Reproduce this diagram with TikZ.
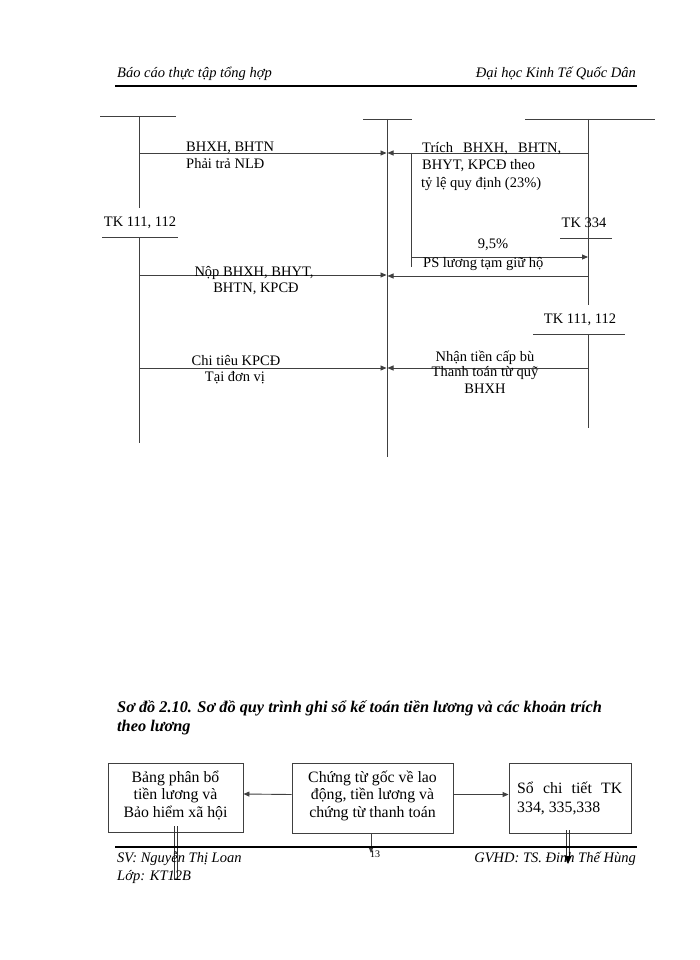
\documentclass[tikz,border=0pt]{standalone}
\usepackage{fontspec}
\setmainfont{Liberation Serif}
\usetikzlibrary{arrows.meta}
\begin{document}
\begin{tikzpicture}[x=1pt,y=-1pt,
  ln/.style={draw=black!75, line width=0.9pt},
  arr/.style={ln, -{Triangle[length=6pt,width=5pt]}},
  lbl/.style={inner sep=0pt, font=\fontsize{14.5}{17.5}\selectfont, anchor=base},
  lblw/.style={lbl, anchor=base west},
  hdr/.style={inner sep=0pt, font=\fontsize{14.5}{17}\selectfont\itshape},
  captxt/.style={inner sep=0pt, anchor=base west, font=\fontsize{16.3}{19}\selectfont\bfseries\itshape},
  boxn/.style={draw=black!75, line width=0.9pt, inner sep=0pt},
  btxt/.style={inner sep=0pt, anchor=base, font=\fontsize{15.8}{17.5}\selectfont},
  rulel/.style={draw=black, line width=1.4pt},
  dbl/.style={draw=black!80, line width=0.8pt}
]
\useasboundingbox (0,0) rectangle (700,960);
\fill[white] (0,0) rectangle (700,960);

% header
\node[hdr, anchor=base west] (h1) at (117,78) {Báo cáo thực tập tổng hợp};
\node[hdr, anchor=base east] (h2) at (636,78) {Đại học Kinh Tế Quốc Dân};
\coordinate (hr1) at (115,86);
\coordinate (hr2) at (637,86);
\draw[rulel] (hr1) -- (hr2);

% ---- T accounts ----
% left TK 111,112
\coordinate (L1a) at (100,116); \coordinate (L1b) at (176,116);
\coordinate (L1t) at (139,116); \coordinate (L1m) at (139,208);
\draw[ln] (L1a) -- (L1b);
\draw[ln] (L1t) -- (L1m);
\node[lbl] (tkL) at (140,226) {TK 111, 112};
\coordinate (L2a) at (102,237); \coordinate (L2b) at (178,237);
\coordinate (L2t) at (139,237); \coordinate (L2e) at (139,443);
\draw[ln] (L2a) -- (L2b);
\draw[ln] (L2t) -- (L2e);

% middle
\coordinate (M1a) at (363,119); \coordinate (M1b) at (412,119);
\coordinate (Mt) at (387,119); \coordinate (Me) at (387,457);
\draw[ln] (M1a) -- (M1b);
\draw[ln] (Mt) -- (Me);

% right TK 334
\coordinate (R1a) at (525,119); \coordinate (R1b) at (655,119);
\coordinate (Rt) at (588,119); \coordinate (Rm) at (588,305);
\draw[ln] (R1a) -- (R1b);
\draw[ln] (Rt) -- (Rm);
\node[lbl] (tk334) at (584,227) {TK 334};
\coordinate (R2a) at (560,238); \coordinate (R2b) at (612,238);
\draw[ln] (R2a) -- (R2b);

% right TK 111,112
\node[lbl] (tkR) at (580,323) {TK 111, 112};
\coordinate (R3a) at (533,334); \coordinate (R3b) at (625,334);
\coordinate (R3t) at (588,334); \coordinate (R3e) at (588,428);
\draw[ln] (R3a) -- (R3b);
\draw[ln] (R3t) -- (R3e);

% arrows row 1
\coordinate (a1s) at (139,153); \coordinate (a1e) at (386.5,153);
\draw[arr] (a1s) -- (a1e);
\node[lblw] (t1a) at (186,152) {BHXH, BHTN};
\node[lblw] (t1b) at (186,169) {Phải trả NLĐ};

\coordinate (a2s) at (588,153); \coordinate (a2e) at (387.5,153);
\draw[arr] (a2s) -- (a2e);
\node[lblw] (t2a) at (422,153) {\makebox[139pt][s]{Trích  BHXH,  BHTN,}};
\node[lblw] (t2b) at (422,170) {BHYT, KPCĐ theo};
\node[lblw] (t2c) at (421,187) {tỷ lệ quy định (23\%)};

% 9,5% branch
\coordinate (v1t) at (411,153); \coordinate (v1e) at (411,267);
\draw[ln] (v1t) -- (v1e);
\coordinate (a3s) at (411,257); \coordinate (a3e) at (588,257);
\draw[arr] (a3s) -- (a3e);
\node[lbl] (t3a) at (493,248) {9,5\%};
\node[lblw] (t3b) at (423,267) {PS lương tạm giữ hộ};

% row 2
\coordinate (a4s) at (139,275); \coordinate (a4e) at (386.5,275);
\draw[arr] (a4s) -- (a4e);
\node[lbl] (t4a) at (254,276) {Nộp BHXH, BHYT,};
\node[lbl] (t4b) at (256,292) {BHTN,  KPCĐ};
\coordinate (a5s) at (588,276); \coordinate (a5e) at (387.5,276);
\draw[arr] (a5s) -- (a5e);

% row 3
\coordinate (a6s) at (139,368); \coordinate (a6e) at (386.5,368);
\draw[arr] (a6s) -- (a6e);
\node[lbl] (t6a) at (236,365) {Chi tiêu KPCĐ};
\node[lbl] (t6b) at (235,381) {Tại  đơn vị};
\coordinate (a7s) at (588,368); \coordinate (a7e) at (387.5,368);
\draw[arr] (a7s) -- (a7e);
\node[lbl] (t7a) at (485,361) {Nhận tiền cấp bù};
\node[lbl] (t7b) at (485,376) {Thanh  toán từ quỹ};
\node[lbl] (t7c) at (485,393) {BHXH};

% caption
\node[captxt] (c1) at (117,712) {Sơ đồ 2.10. Sơ đồ quy trình ghi sổ kế toán tiền lương và các khoản trích};
\node[captxt] (c2) at (117,731) {theo lương};

% boxes
\node[boxn, minimum width=135pt, minimum height=69pt] (b1) at (175.5,797.5) {};
\node[btxt] (b1a) at (175.5,782) {Bảng phân bổ};
\node[btxt] (b1b) at (175.5,799) {tiền lương và};
\node[btxt] (b1c) at (175.5,817) {Bảo hiểm xã hội};

\node[boxn, minimum width=161pt, minimum height=70pt] (b2) at (372.5,798) {};
\node[btxt] (b2a) at (372.5,782) {Chứng từ gốc về lao};
\node[btxt] (b2b) at (372.5,799) {động, tiền lương và};
\node[btxt] (b2c) at (372.5,817) {chứng từ thanh toán};

\node[boxn, minimum width=122pt, minimum height=70pt] (b3) at (570,798) {};
\node[btxt, anchor=base west] (b3a) at (517,793) {\makebox[105pt][s]{Sổ chi tiết  TK}};
\node[btxt, anchor=base west] (b3b) at (517,812) {334, 335,338};

\draw[arr] ([yshift=3.5pt]b2.west) -- ([yshift=3.5pt]b1.east);
\draw[arr] ([yshift=3.5pt]b2.east) -- ([yshift=3.5pt]b3.west);
\coordinate (d2) at (371,853);
\draw[ln, -{Triangle[length=5pt,width=4pt]}] (b2.south -| d2) -- (d2);

% double lines down
\coordinate (d1a) at (174,880);
\coordinate (d1b) at (177,880);
\draw[dbl] ([yshift=6pt]b1.south -| d1a) -- (d1a);
\draw[dbl] ([yshift=6pt]b1.south -| d1b) -- (d1b);
\coordinate (d3a) at (566.5,857);
\coordinate (d3b) at (569.5,857);
\coordinate (d3) at (568,857);
\coordinate (d3t) at (568,864);
\draw[dbl] ([yshift=3pt]b3.south -| d3a) -- (d3a);
\draw[dbl] ([yshift=3pt]b3.south -| d3b) -- (d3b);
\draw[draw=black, line width=0.8pt, -{Triangle[length=8pt,width=7pt]}] (d3) -- (d3t);

% footer
\coordinate (fr1) at (115,847);
\coordinate (fr2) at (637,847);
\draw[rulel] (fr1) -- (fr2);
\node[hdr, anchor=base west] (f1) at (117,862) {SV: Nguyễn Thị Loan};
\node[hdr, anchor=base west] (f2) at (117,880) {Lớp: KT12B};
\node[inner sep=0pt, anchor=base, font=\fontsize{10}{12}\selectfont] (pg) at (375,857) {13};
\node[hdr, anchor=base east] (f3) at (636,862) {GVHD: TS. Đinh Thế Hùng};
\end{tikzpicture}
\end{document}
